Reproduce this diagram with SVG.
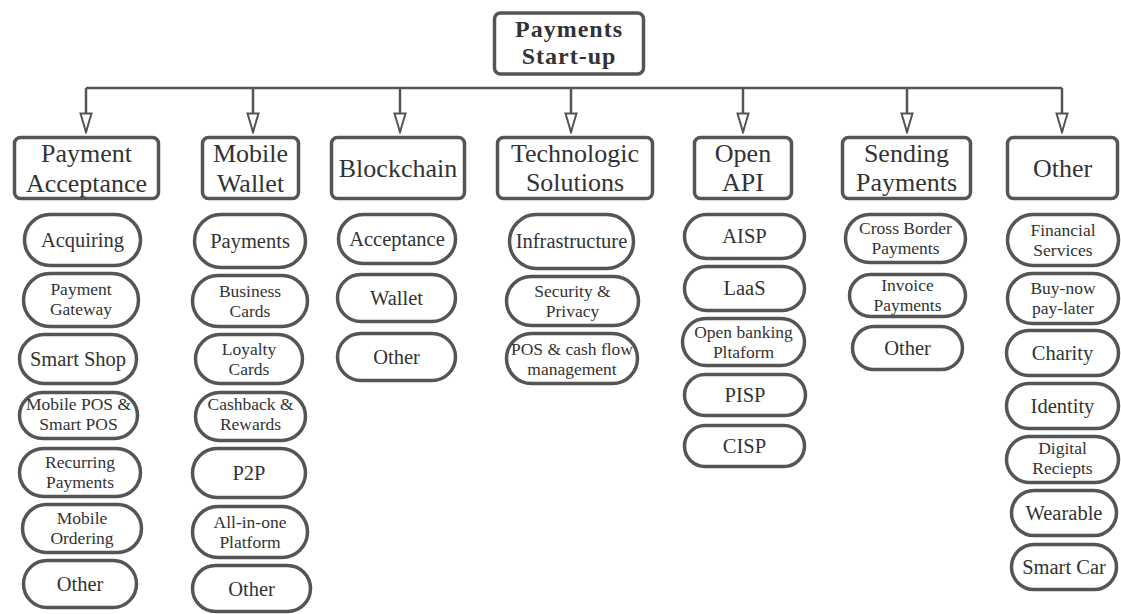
<svg xmlns="http://www.w3.org/2000/svg" width="1121" height="614" viewBox="0 0 1121 614">
  <style>
    .root { fill: #fff; stroke: #555; stroke-width: 3.5; }
    .head { fill: #fff; stroke: #555; stroke-width: 3.5; }
    .pill { fill: #fff; stroke: #555; stroke-width: 3.5; }
    .t-root { font-family: "Liberation Serif", serif; font-weight: bold; font-size: 24px; letter-spacing: 1px; fill: #333; text-anchor: middle; }
    .t-head { font-family: "Liberation Serif", serif; font-size: 26px; fill: #333; text-anchor: middle; }
    .t-one { font-family: "Liberation Serif", serif; font-size: 20.5px; fill: #333; text-anchor: middle; }
    .t-two { font-family: "Liberation Serif", serif; font-size: 17.5px; fill: #333; text-anchor: middle; }
    .wire { fill: none; stroke: #555; stroke-width: 2.5; }
  </style>
  <defs>
    <marker id="open-arrow" viewBox="0 0 22 14" refX="20" refY="7" markerWidth="22" markerHeight="14" markerUnits="userSpaceOnUse" orient="auto">
      <path d="M1.5,1.5 L20,7 L1.5,12.5 z" fill="#fff" stroke="#555" stroke-width="2"/>
    </marker>
  </defs>

  <rect width="1121" height="614" fill="#fff"/>

  <!-- connectors: bus line and drops to each category -->
  <g id="connectors">
    <path class="wire" d="M86,88 H1062"/>
    <path class="wire" d="M86,88 V132" marker-end="url(#open-arrow)"/>
    <path class="wire" d="M253,88 V132" marker-end="url(#open-arrow)"/>
    <path class="wire" d="M400,88 V132" marker-end="url(#open-arrow)"/>
    <path class="wire" d="M571,88 V132" marker-end="url(#open-arrow)"/>
    <path class="wire" d="M743,88 V132" marker-end="url(#open-arrow)"/>
    <path class="wire" d="M907,88 V132" marker-end="url(#open-arrow)"/>
    <path class="wire" d="M1062,88 V132" marker-end="url(#open-arrow)"/>
  </g>

  <!-- root -->
  <g id="root">
    <rect class="root" x="494.5" y="13" width="149" height="61" rx="6"/>
    <text class="t-root" x="569" y="37">Payments</text>
    <text class="t-root" x="569" y="64">Start-up</text>
  </g>

  <!-- category headers -->
  <g id="cat-payment-acceptance">
    <rect class="head" x="14.5" y="137.5" width="144" height="61" rx="6"/>
    <text class="t-head" x="86.5" y="162">Payment</text>
    <text class="t-head" x="86.5" y="192">Acceptance</text>
  </g>
  <g id="cat-mobile-wallet">
    <rect class="head" x="202.5" y="137.5" width="96" height="61" rx="6"/>
    <text class="t-head" x="250.5" y="162">Mobile</text>
    <text class="t-head" x="250.5" y="192">Wallet</text>
  </g>
  <g id="cat-blockchain">
    <rect class="head" x="331.5" y="137.5" width="133" height="61" rx="6"/>
    <text class="t-head" x="398" y="177">Blockchain</text>
  </g>
  <g id="cat-technologic">
    <rect class="head" x="497.5" y="137.5" width="155" height="61" rx="6"/>
    <text class="t-head" x="575" y="162">Technologic</text>
    <text class="t-head" x="575" y="191">Solutions</text>
  </g>
  <g id="cat-open-api">
    <rect class="head" x="694.5" y="137.5" width="97" height="61" rx="6"/>
    <text class="t-head" x="743" y="162">Open</text>
    <text class="t-head" x="743" y="191">API</text>
  </g>
  <g id="cat-sending-payments">
    <rect class="head" x="842.5" y="137.5" width="128" height="61" rx="6"/>
    <text class="t-head" x="906.5" y="162">Sending</text>
    <text class="t-head" x="906.5" y="191">Payments</text>
  </g>
  <g id="cat-other">
    <rect class="head" x="1007.5" y="137.5" width="110" height="61" rx="6"/>
    <text class="t-head" x="1062.5" y="177">Other</text>
  </g>

  <!-- Payment Acceptance items -->
  <g id="pa-acquiring">
    <rect class="pill" x="24.5" y="214.5" width="116" height="51" rx="25.5"/>
    <text class="t-one" x="82.5" y="247">Acquiring</text>
  </g>
  <g id="pa-gateway">
    <rect class="pill" x="23.5" y="273.5" width="115" height="53" rx="26.5"/>
    <text class="t-two" x="81" y="295">Payment</text>
    <text class="t-two" x="81" y="315">Gateway</text>
  </g>
  <g id="pa-smart-shop">
    <rect class="pill" x="19.5" y="334.5" width="117" height="49" rx="24.5"/>
    <text class="t-one" x="78" y="366">Smart Shop</text>
  </g>
  <g id="pa-mobile-pos">
    <rect class="pill" x="19.5" y="392.5" width="118" height="46" rx="23"/>
    <text class="t-two" x="78.5" y="410">Mobile POS &amp;</text>
    <text class="t-two" x="78.5" y="430">Smart POS</text>
  </g>
  <g id="pa-recurring">
    <rect class="pill" x="19.5" y="448.5" width="121" height="48" rx="24"/>
    <text class="t-two" x="80" y="468">Recurring</text>
    <text class="t-two" x="80" y="488">Payments</text>
  </g>
  <g id="pa-ordering">
    <rect class="pill" x="22.5" y="504.5" width="119" height="48" rx="24"/>
    <text class="t-two" x="82" y="524">Mobile</text>
    <text class="t-two" x="82" y="544">Ordering</text>
  </g>
  <g id="pa-other">
    <rect class="pill" x="23.5" y="560.5" width="113" height="47" rx="23.5"/>
    <text class="t-one" x="80" y="591">Other</text>
  </g>

  <!-- Mobile Wallet items -->
  <g id="mw-payments">
    <rect class="pill" x="194.5" y="214.5" width="111" height="53" rx="26.5"/>
    <text class="t-one" x="250" y="248">Payments</text>
  </g>
  <g id="mw-business">
    <rect class="pill" x="192.5" y="275.5" width="115" height="51" rx="25.5"/>
    <text class="t-two" x="250" y="297">Business</text>
    <text class="t-two" x="250" y="317">Cards</text>
  </g>
  <g id="mw-loyalty">
    <rect class="pill" x="195.5" y="334.5" width="107" height="49" rx="24.5"/>
    <text class="t-two" x="249" y="355">Loyalty</text>
    <text class="t-two" x="249" y="375">Cards</text>
  </g>
  <g id="mw-cashback">
    <rect class="pill" x="195.5" y="392.5" width="110" height="48" rx="24"/>
    <text class="t-two" x="250.5" y="410">Cashback &amp;</text>
    <text class="t-two" x="250.5" y="430">Rewards</text>
  </g>
  <g id="mw-p2p">
    <rect class="pill" x="192.5" y="448.5" width="113" height="49" rx="24.5"/>
    <text class="t-one" x="249" y="480">P2P</text>
  </g>
  <g id="mw-all-in-one">
    <rect class="pill" x="192.5" y="506.5" width="115" height="51" rx="25.5"/>
    <text class="t-two" x="250" y="528">All-in-one</text>
    <text class="t-two" x="250" y="548">Platform</text>
  </g>
  <g id="mw-other">
    <rect class="pill" x="192.5" y="565.5" width="118" height="46" rx="23"/>
    <text class="t-one" x="251.5" y="596">Other</text>
  </g>

  <!-- Blockchain items -->
  <g id="bc-acceptance">
    <rect class="pill" x="338.5" y="214.5" width="117" height="49" rx="24.5"/>
    <text class="t-one" x="397" y="246">Acceptance</text>
  </g>
  <g id="bc-wallet">
    <rect class="pill" x="337.5" y="274.5" width="118" height="47" rx="23.5"/>
    <text class="t-one" x="396.5" y="305">Wallet</text>
  </g>
  <g id="bc-other">
    <rect class="pill" x="337.5" y="333.5" width="118" height="47" rx="23.5"/>
    <text class="t-one" x="396.5" y="364">Other</text>
  </g>

  <!-- Technologic Solutions items -->
  <g id="ts-infrastructure">
    <rect class="pill" x="509.5" y="214.5" width="124" height="54" rx="27"/>
    <text class="t-one" x="571.5" y="248">Infrastructure</text>
  </g>
  <g id="ts-security">
    <rect class="pill" x="506.5" y="276.5" width="132" height="49" rx="24.5"/>
    <text class="t-two" x="572.5" y="297">Security &amp;</text>
    <text class="t-two" x="572.5" y="317">Privacy</text>
  </g>
  <g id="ts-pos-cash">
    <rect class="pill" x="506.5" y="333.5" width="131" height="50" rx="25"/>
    <text class="t-two" x="572" y="355">POS &amp; cash flow</text>
    <text class="t-two" x="572" y="375">management</text>
  </g>

  <!-- Open API items -->
  <g id="oa-aisp">
    <rect class="pill" x="684.5" y="214.5" width="120" height="44" rx="22"/>
    <text class="t-one" x="744.5" y="243">AISP</text>
  </g>
  <g id="oa-laas">
    <rect class="pill" x="684.5" y="266.5" width="120" height="44" rx="22"/>
    <text class="t-one" x="744.5" y="295">LaaS</text>
  </g>
  <g id="oa-open-banking">
    <rect class="pill" x="682.5" y="318.5" width="122" height="47" rx="23.5"/>
    <text class="t-two" x="743.5" y="338">Open banking</text>
    <text class="t-two" x="743.5" y="358">Pltaform</text>
  </g>
  <g id="oa-pisp">
    <rect class="pill" x="684.5" y="374.5" width="121" height="41" rx="20.5"/>
    <text class="t-one" x="745" y="402">PISP</text>
  </g>
  <g id="oa-cisp">
    <rect class="pill" x="684.5" y="425.5" width="120" height="41" rx="20.5"/>
    <text class="t-one" x="744.5" y="453">CISP</text>
  </g>

  <!-- Sending Payments items -->
  <g id="sp-cross-border">
    <rect class="pill" x="845.5" y="214.5" width="120" height="48" rx="24"/>
    <text class="t-two" x="905.5" y="234">Cross Border</text>
    <text class="t-two" x="905.5" y="254">Payments</text>
  </g>
  <g id="sp-invoice">
    <rect class="pill" x="849.5" y="274.5" width="116" height="42" rx="21"/>
    <text class="t-two" x="907.5" y="291">Invoice</text>
    <text class="t-two" x="907.5" y="311">Payments</text>
  </g>
  <g id="sp-other">
    <rect class="pill" x="852.5" y="326.5" width="110" height="43" rx="21.5"/>
    <text class="t-one" x="907.5" y="355">Other</text>
  </g>

  <!-- Other items -->
  <g id="ot-financial">
    <rect class="pill" x="1007.5" y="214.5" width="111" height="51" rx="25.5"/>
    <text class="t-two" x="1063" y="236">Financial</text>
    <text class="t-two" x="1063" y="256">Services</text>
  </g>
  <g id="ot-bnpl">
    <rect class="pill" x="1007.5" y="273.5" width="111" height="50" rx="25"/>
    <text class="t-two" x="1063" y="294">Buy-now</text>
    <text class="t-two" x="1063" y="314">pay-later</text>
  </g>
  <g id="ot-charity">
    <rect class="pill" x="1006.5" y="330.5" width="112" height="45" rx="22.5"/>
    <text class="t-one" x="1062.5" y="360">Charity</text>
  </g>
  <g id="ot-identity">
    <rect class="pill" x="1006.5" y="383.5" width="112" height="45" rx="22.5"/>
    <text class="t-one" x="1062.5" y="413">Identity</text>
  </g>
  <g id="ot-digital">
    <rect class="pill" x="1006.5" y="436.5" width="112" height="46" rx="23"/>
    <text class="t-two" x="1062.5" y="454">Digital</text>
    <text class="t-two" x="1062.5" y="474">Reciepts</text>
  </g>
  <g id="ot-wearable">
    <rect class="pill" x="1011.5" y="490.5" width="105" height="45" rx="22.5"/>
    <text class="t-one" x="1064" y="520">Wearable</text>
  </g>
  <g id="ot-smart-car">
    <rect class="pill" x="1011.5" y="544.5" width="105" height="45" rx="22.5"/>
    <text class="t-one" x="1064" y="574">Smart Car</text>
  </g>
</svg>
